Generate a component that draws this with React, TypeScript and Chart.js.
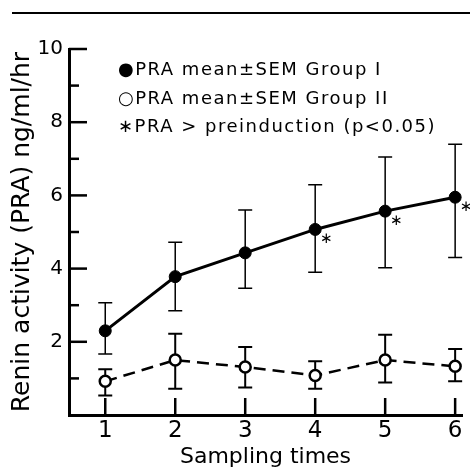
import { useEffect, useRef } from "react";
import { Chart, registerables } from "chart.js";

Chart.register(...registerables);

const FONT = "'DejaVu Sans', sans-serif";

const samplingTimes = [1, 2, 3, 4, 5, 6];
const group1Mean = [2.3, 3.78, 4.43, 5.07, 5.57, 5.95];
const group1Upper = [3.07, 4.72, 5.6, 6.29, 7.05, 7.4];
const group1Lower = [1.67, 2.85, 3.46, 3.9, 4.02, 4.3];
const group2Mean = [0.92, 1.5, 1.31, 1.08, 1.5, 1.33];
const group2Upper = [1.25, 2.22, 1.86, 1.47, 2.19, 1.8];
const group2Lower = [0.53, 0.72, 0.75, 0.72, 0.89, 0.92];
const group1Significant = [false, false, false, true, true, true];

const yTickValues = [1, 2, 3, 4, 5, 6, 7, 8, 9, 10];
const yTickLabels = ["", "2", "", "4", "", "6", "", "8", "", "10"];
const xTickLabels = ["1", "2", "3", "4", "5", "6"];

const legendLines = [
  "●PRA mean±SEM Group I",
  "○PRA mean±SEM Group II",
  "∗PRA > preinduction (p<0.05)",
];

const errorBarPlugin = {
  id: "errorBars",
  beforeDatasetsDraw(chart: any) {
    const { ctx, scales } = chart;
    const x = scales.x;
    const y = scales.y;
    const groups = [
      { upper: group1Upper, lower: group1Lower, width: 1.5 },
      { upper: group2Upper, lower: group2Lower, width: 2 },
    ];
    ctx.save();
    ctx.strokeStyle = "#000";
    groups.forEach((g) => {
      ctx.lineWidth = g.width;
      samplingTimes.forEach((t, i) => {
        const px = x.getPixelForValue(t);
        const top = y.getPixelForValue(g.upper[i]);
        const bot = y.getPixelForValue(g.lower[i]);
        ctx.beginPath();
        ctx.moveTo(px, top);
        ctx.lineTo(px, bot);
        ctx.moveTo(px - 7, top);
        ctx.lineTo(px + 7, top);
        ctx.moveTo(px - 7, bot);
        ctx.lineTo(px + 7, bot);
        ctx.stroke();
      });
    });
    ctx.restore();
  },
};

const decorPlugin = {
  id: "decor",
  afterDraw(chart: any) {
    const { ctx, scales, chartArea } = chart;
    const x = scales.x;
    const y = scales.y;
    ctx.save();
    ctx.strokeStyle = "#000";
    ctx.fillStyle = "#000";
    // page rule at top
    ctx.lineWidth = 2;
    ctx.beginPath();
    ctx.moveTo(12, 13);
    ctx.lineTo(chart.width, 13);
    ctx.stroke();

    // inward ticks on x axis
    ctx.lineWidth = 2.5;
    samplingTimes.forEach((t) => {
      const px = x.getPixelForValue(t);
      ctx.beginPath();
      ctx.moveTo(px, chartArea.bottom);
      ctx.lineTo(px, chartArea.bottom - 17);
      ctx.stroke();
    });
    // inward ticks on y axis
    yTickValues.forEach((v, i) => {
      const py = y.getPixelForValue(v);
      const len = yTickLabels[i] ? 18 : 10;
      ctx.beginPath();
      ctx.moveTo(chartArea.left, py);
      ctx.lineTo(chartArea.left + len, py);
      ctx.stroke();
    });

    // significance asterisks
    ctx.font = `15px ${FONT}`;
    ctx.textAlign = "center";
    ctx.textBaseline = "middle";
    samplingTimes.forEach((t, i) => {
      if (!group1Significant[i]) return;
      const px = x.getPixelForValue(t);
      const py = y.getPixelForValue(group1Mean[i]);
      ctx.fillText("∗", px + 11, py + 10);
    });

    // legend
    ctx.font = `18px ${FONT}`;
    ctx.textAlign = "left";
    ctx.textBaseline = "alphabetic";
    (ctx as any).letterSpacing = "1.5px";
    legendLines.forEach((line, i) => {
      ctx.fillText(line, chartArea.left + 49, chartArea.top + 26 + i * 28.5);
    });
    ctx.restore();
  },
};

export default function App() {
  const canvasRef = useRef<HTMLCanvasElement | null>(null);

  useEffect(() => {
    if (!canvasRef.current) return;
    const chart = new Chart(canvasRef.current, {
      type: "line",
      data: {
        datasets: [
          {
            label: "Group I",
            data: samplingTimes.map((t, i) => ({ x: t, y: group1Mean[i] })),
            borderColor: "#000",
            backgroundColor: "#000",
            borderWidth: 3,
            pointRadius: 6,
            pointBackgroundColor: "#000",
            pointBorderColor: "#000",
            pointBorderWidth: 1,
            tension: 0,
          },
          {
            label: "Group II",
            data: samplingTimes.map((t, i) => ({ x: t, y: group2Mean[i] })),
            borderColor: "#000",
            backgroundColor: "#fff",
            borderWidth: 2.5,
            borderDash: [12, 7],
            pointRadius: 5.5,
            pointBackgroundColor: "#fff",
            pointBorderColor: "#000",
            pointBorderWidth: 2.5,
            tension: 0,
          },
        ],
      },
      options: {
        animation: false,
        responsive: true,
        maintainAspectRatio: false,
        layout: { padding: { left: 0, right: 0, top: 49, bottom: 0 } },
        plugins: {
          legend: { display: false },
          tooltip: { enabled: false },
        },
        scales: {
          x: {
            type: "linear",
            min: 0.482,
            max: 6.098,
            afterBuildTicks: (s: any) => {
              s.ticks = samplingTimes.map((v) => ({ value: v }));
            },
            afterFit: (s: any) => {
              s.height = 57;
              s.paddingLeft = 0;
              s.paddingRight = 0;
            },
            grid: { display: false, drawTicks: false },
            border: { display: true, color: "#000", width: 3 },
            ticks: {
              padding: 2,
              color: "#000",
              font: { family: FONT, size: 23 },
              callback: (_v: any, i: number) => xTickLabels[i],
            },
            title: {
              display: true,
              text: "Sampling times",
              color: "#000",
              font: { family: FONT, size: 22 },
              padding: { top: 0, bottom: 2 },
            },
          },
          y: {
            type: "linear",
            min: 0,
            max: 10,
            afterBuildTicks: (s: any) => {
              s.ticks = yTickValues.map((v) => ({ value: v }));
            },
            afterFit: (s: any) => {
              s.width = 69;
              s.paddingTop = 0;
              s.paddingBottom = 0;
            },
            grid: { display: false, drawTicks: false },
            border: { display: true, color: "#000", width: 3 },
            ticks: {
              padding: 6,
              color: "#000",
              font: { family: FONT, size: 20 },
              callback: (_v: any, i: number) => yTickLabels[i],
            },
            title: {
              display: true,
              text: "Renin activity (PRA) ng/ml/hr",
              color: "#000",
              font: { family: FONT, size: 25 },
              padding: { top: 7, bottom: 0 },
            },
          },
        },
      },
      plugins: [errorBarPlugin, decorPlugin],
    });
    return () => chart.destroy();
  }, []);

  return (
    <div style={{ position: "absolute", left: 0, top: 0, width: 470, height: 472, background: "#fff" }}>
      <canvas ref={canvasRef} />
    </div>
  );
}
